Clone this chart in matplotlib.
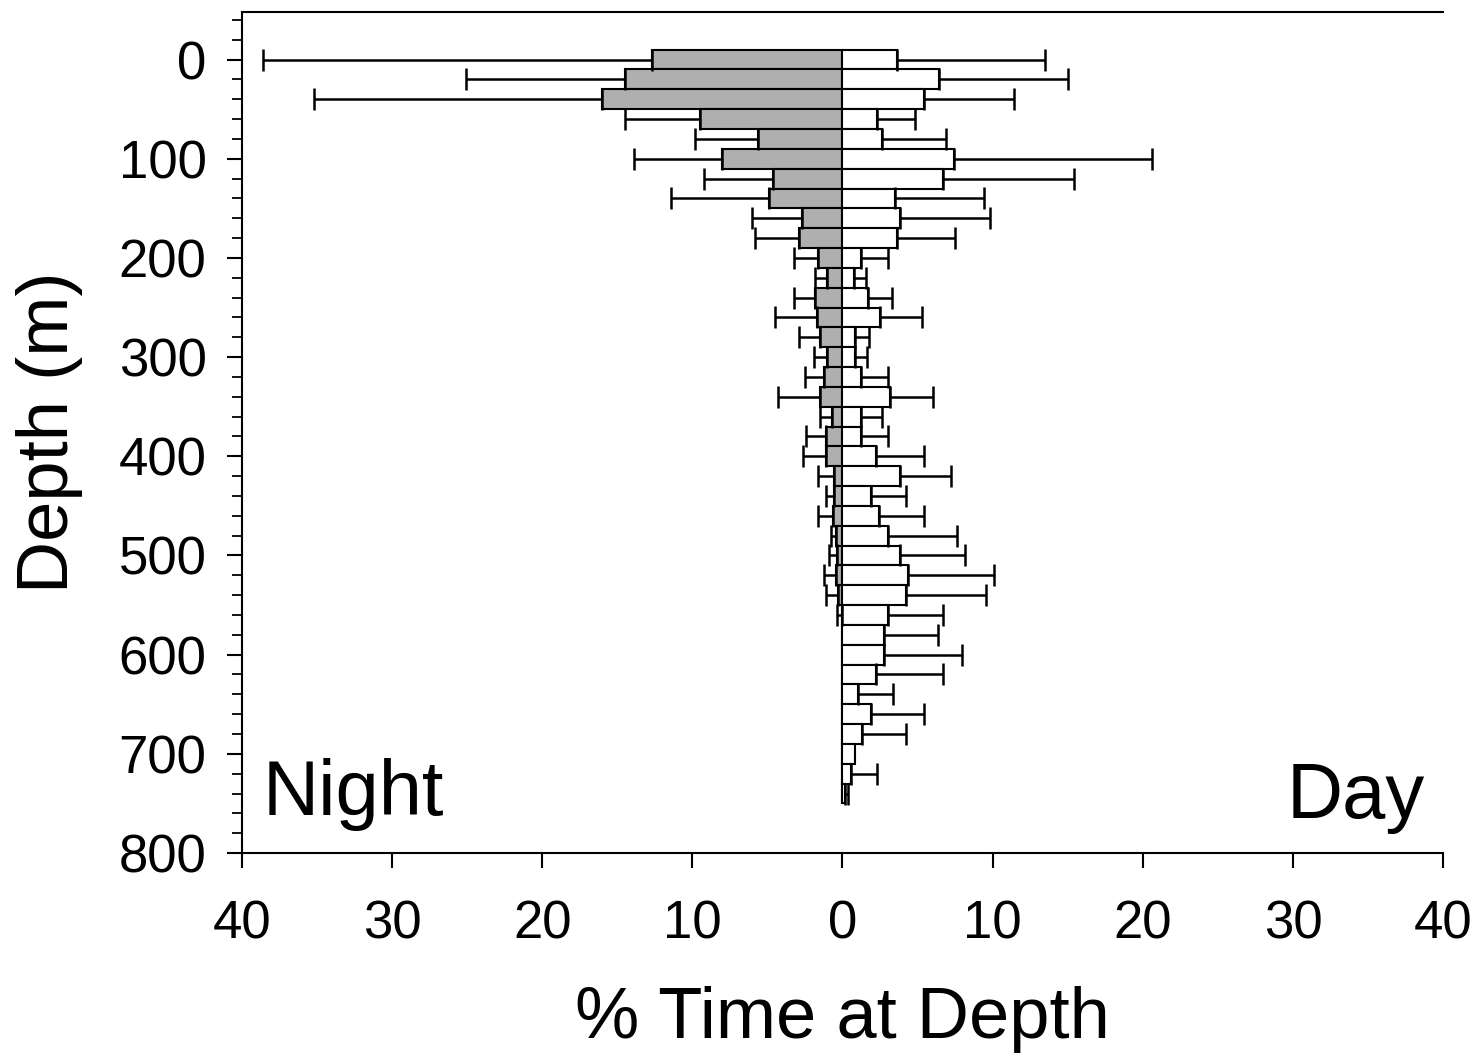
import matplotlib
matplotlib.use("Agg")
import matplotlib.pyplot as plt
from matplotlib.ticker import MultipleLocator, FuncFormatter
import numpy as np

plt.rcParams['font.family'] = ['Liberation Sans', 'DejaVu Sans']

# Depth bins (m), 20 m bins
depth = [0, 20, 40, 60, 80, 100, 120, 140, 160, 180, 200, 220, 240, 260, 280,
         300, 320, 340, 360, 380, 400, 420, 440, 460, 480, 500, 520, 540, 560,
         580, 600, 620, 640, 660, 680, 700, 720, 740]

# Night: % time at depth and error
night_mean = [12.7, 14.5, 16.0, 9.5, 5.6, 8.0, 4.6, 4.9, 2.7, 2.9, 1.6, 1.0, 1.8, 1.7, 1.5,
              1.0, 1.2, 1.5, 0.7, 1.1, 1.1, 0.55, 0.55, 0.6, 0.45, 0.35, 0.4, 0.3, 0.05,
              0, 0, 0, 0, 0, 0, 0, 0, 0]
night_err = [25.9, 10.6, 19.2, 5.0, 4.2, 5.9, 4.6, 6.5, 3.3, 2.9, 1.6, 0.8, 1.4, 2.8, 1.4,
             0.9, 1.3, 2.8, 0.8, 1.3, 1.5, 1.1, 0.55, 1.05, 0.3, 0.55, 0.85, 0.8, 0.3,
             0, 0, 0, 0, 0, 0, 0, 0, 0]

# Day: % time at depth and error
day_mean = [3.6, 6.4, 5.4, 2.3, 2.6, 7.4, 6.7, 3.5, 3.8, 3.6, 1.2, 0.75, 1.7, 2.5, 0.85,
            0.8, 1.2, 3.15, 1.2, 1.25, 2.25, 3.8, 1.9, 2.45, 3.0, 3.8, 4.35, 4.2, 3.0,
            2.75, 2.75, 2.25, 1.05, 1.9, 1.3, 0.8, 0.6, 0.15]
day_err = [9.9, 8.6, 6.0, 2.5, 4.3, 13.2, 8.7, 5.9, 6.0, 3.9, 1.8, 0.8, 1.6, 2.8, 0.9,
           0.8, 1.8, 2.85, 1.45, 1.75, 3.2, 3.45, 2.35, 3.0, 4.6, 4.35, 5.75, 5.35, 3.7,
           3.6, 5.2, 4.45, 2.3, 3.55, 2.95, 0.0, 1.7, 0.2]

xticks = [-40, -30, -20, -10, 0, 10, 20, 30, 40]
yticks = [0, 100, 200, 300, 400, 500, 600, 700, 800]

d = np.array(depth, float)
nm = np.array(night_mean)
ne = np.array(night_err)
dm = np.array(day_mean)
de = np.array(day_err)

fig = plt.figure(figsize=(14.8, 10.59), dpi=100)
ax = fig.add_axes([0.1635, 0.1945, 0.8115, 0.7942])

gray = '#afafaf'
lw = 1.5
elw = 1.8
# night bars (gray, to the left)
ax.barh(d, -nm, height=20, color=gray, edgecolor='black', linewidth=lw, zorder=2)
# day bars (white, to the right)
ax.barh(d, dm, height=20, color='white', edgecolor='black', linewidth=lw, zorder=2)

# one-sided error bars
mask_n = ne > 0
ax.errorbar(-nm[mask_n], d[mask_n], xerr=[ne[mask_n], np.zeros(mask_n.sum())],
            fmt='none', ecolor='black', elinewidth=elw, capsize=8, capthick=elw, zorder=3)
mask_d = de > 0
ax.errorbar(dm[mask_d], d[mask_d], xerr=[np.zeros(mask_d.sum()), de[mask_d]],
            fmt='none', ecolor='black', elinewidth=elw, capsize=8, capthick=elw, zorder=3)

ax.set_xlim(-40, 40)
ax.set_ylim(800, -48)

ax.set_xticks(xticks)
ax.xaxis.set_major_formatter(FuncFormatter(lambda v, p: f"{abs(int(round(v)))}"))
ax.set_yticks(yticks)
ax.yaxis.set_minor_locator(MultipleLocator(20))

for s in ['left', 'bottom', 'top']:
    ax.spines[s].set_linewidth(1.5)
ax.spines['right'].set_visible(False)

ax.tick_params(axis='both', which='major', direction='out', width=1.5, length=10.5,
               labelsize=38)
ax.tick_params(axis='y', which='major', pad=15)
ax.tick_params(axis='x', which='major', pad=23)
ax.tick_params(axis='y', which='minor', direction='out', width=1.3, length=7)
ax.tick_params(top=False, right=False)

ax.set_xlabel('% Time at Depth', fontsize=52, labelpad=26)
ax.set_ylabel('Depth (m)', fontsize=52, labelpad=26)

ax.text(0.0175, 0.045, 'Night', transform=ax.transAxes, fontsize=56,
        ha='left', va='baseline')
ax.text(0.985, 0.042, 'Day', transform=ax.transAxes, fontsize=56,
        ha='right', va='baseline')

fig.savefig('out.png', dpi=100)
